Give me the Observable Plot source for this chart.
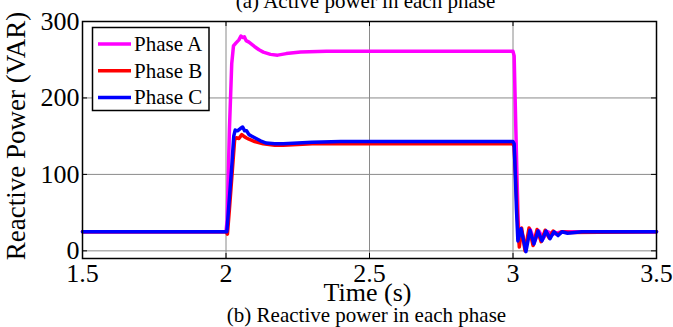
<!DOCTYPE html>
<html>
<head>
<meta charset="utf-8">
<script src="https://cdn.jsdelivr.net/npm/d3@7"></script>
<script src="https://cdn.jsdelivr.net/npm/@observablehq/plot@0.6"></script>
<style>
  html, body { margin: 0; padding: 0; background: white; }
  svg { display: block; }
</style>
</head>
<body>
<div id="chart"></div>
<script>
// ---- data ----
const seriesNames = ["Phase A", "Phase B", "Phase C"];
const seriesColors = ["#ff00ff", "#ff0000", "#0000ff"];

const tA = [1.5, 2.0, 2.004, 2.012, 2.02, 2.026, 2.035, 2.045, 2.052, 2.058, 2.064, 2.07, 2.08, 2.09, 2.1, 2.115, 2.13, 2.155, 2.18, 2.21, 2.26, 2.35, 3.0, 3.004, 3.008, 3.013, 3.018, 3.022, 3.03, 3.045, 3.06, 3.075, 3.09, 3.105, 3.12, 3.14, 3.17, 3.2, 3.5];
const vA = [25, 25, 40, 160, 245, 268, 272, 276, 281, 279, 280, 275, 273, 270, 267, 263, 260, 257, 256, 258, 260, 261, 261, 255, 190, 110, 40, 10, 25, 5, 28, 12, 26, 16, 25, 22, 25, 25, 25];

const tB = [1.5, 2.0, 2.005, 2.012, 2.022, 2.03, 2.036, 2.045, 2.055, 2.062, 2.07, 2.08, 2.1, 2.13, 2.17, 2.2, 2.3, 3.0, 3.004, 3.01, 3.016, 3.022, 3.03, 3.042, 3.056, 3.07, 3.084, 3.098, 3.112, 3.126, 3.14, 3.155, 3.17, 3.2, 3.5];
const vB = [25, 25, 22, 55, 105, 145, 148, 147, 152, 150, 148, 146, 143, 140, 138, 138, 140, 140, 136, 90, 40, 5, 30, 0, 30, 7, 28, 12, 27, 17, 26, 21, 25, 24, 25];

const tC = [1.5, 2.0, 2.003, 2.01, 2.02, 2.027, 2.032, 2.04, 2.05, 2.058, 2.065, 2.072, 2.08, 2.09, 2.1, 2.12, 2.14, 2.17, 2.2, 2.3, 2.4, 3.0, 3.004, 3.008, 3.012, 3.017, 3.028, 3.045, 3.059, 3.073, 3.087, 3.101, 3.115, 3.129, 3.143, 3.157, 3.171, 3.19, 3.24, 3.5];
const vC = [25, 25, 25, 60, 110, 150, 158, 157, 160, 162, 157, 157, 152, 150, 148, 144, 141, 140, 140, 142, 143, 143, 140, 100, 55, 13, 29, -1, 27, 9, 26, 13, 26, 16, 25, 20, 25, 23, 25, 25];

const xTicks = [1.5, 2, 2.5, 3, 3.5];
const xTickLabels = ["1.5", "2", "2.5", "3", "3.5"];
const yTicks = [0, 100, 200, 300];
const yTickLabels = ["0", "100", "200", "300"];
const xGrid = [2, 2.5, 3];
const yGrid = [0, 100, 200];

const titleText = "(a) Active power in each phase";
const xLabel = "Time (s)";
const yLabel = "Reactive Power (VAR)";
const captionText = "(b) Reactive power in each phase";

// ---- build table ----
const toRows = (ts, vs, name) => ts.map((t, i) => ({t, v: vs[i], name}));
const rows = [
  ...toRows(tA, vA, seriesNames[0]),
  ...toRows(tB, vB, seriesNames[1]),
  ...toRows(tC, vC, seriesNames[2])
];

const W = 673, H = 327;
const mL = 82, mR = 17, mT = 21, mB = 69;
const fw = W - mL - mR, fh = H - mT - mB;
const serif = "Liberation Serif, Times New Roman, serif";

const chart = Plot.plot({
  width: W,
  height: H,
  marginLeft: mL,
  marginRight: mR,
  marginTop: mT,
  marginBottom: mB,
  style: {fontFamily: serif, background: "white", color: "black"},
  x: {domain: [1.5, 3.5], axis: null},
  y: {domain: [-10, 300], axis: null},
  color: {domain: seriesNames, range: seriesColors},
  marks: [
    Plot.ruleX(xGrid, {x: d => d, stroke: "#8a8a8a", strokeWidth: 1}),
    Plot.ruleY(yGrid, {y: d => d, stroke: "#8a8a8a", strokeWidth: 1}),
    // inward tick marks
    Plot.tickX(xTicks, {x: d => d, insetTop: fh - 5, stroke: "black"}),
    Plot.tickX(xTicks, {x: d => d, insetBottom: fh - 5, stroke: "black"}),
    Plot.tickY(yTicks, {y: d => d, insetRight: fw - 5, stroke: "black"}),
    Plot.tickY(yTicks, {y: d => d, insetLeft: fw - 5, stroke: "black"}),
    // data lines
    Plot.line(rows, {x: "t", y: "v", z: "name", stroke: "name", strokeWidth: 3.5, strokeLinejoin: "round", strokeLinecap: "round"}),
    Plot.frame({stroke: "black", strokeWidth: 1.5}),
    // tick labels
    Plot.text(xTicks, {x: d => d, text: (d, i) => xTickLabels[i], frameAnchor: "bottom", lineAnchor: "bottom", dy: 23, fontSize: 26, fontFamily: serif, fill: "black"}),
    Plot.text(yTicks, {y: d => d, text: (d, i) => yTickLabels[i], frameAnchor: "left", textAnchor: "end", dx: -3, fontSize: 26, fontFamily: serif, fill: "black"}),
    // axis labels, title, caption
    Plot.text([xLabel], {text: d => d, frameAnchor: "bottom", lineAnchor: "bottom", dy: 42, dx: -2, fontSize: 26, fontFamily: serif, fill: "black"}),
    Plot.text([yLabel], {text: d => d, frameAnchor: "left", textAnchor: "middle", rotate: -90, dx: -66, dy: -4, fontSize: 27, fontFamily: serif, fill: "black"}),
    Plot.text([titleText], {text: d => d, frameAnchor: "top", lineAnchor: "bottom", dy: -13.5, dx: -4, fontSize: 21, fontFamily: serif, fill: "black"}),
    Plot.text([captionText], {text: d => d, frameAnchor: "bottom", lineAnchor: "bottom", dy: 63, dx: -3, fontSize: 21, fontFamily: serif, fill: "black"})
  ]
});

document.getElementById("chart").appendChild(chart);

// ---- legend ----
const svg = d3.select(chart);
const lg = svg.append("g").attr("font-family", serif).attr("font-size", 21).attr("text-anchor", "start");
lg.append("rect")
  .attr("x", 92.5).attr("y", 27.5).attr("width", 116.5).attr("height", 83)
  .attr("fill", "white").attr("stroke", "black").attr("stroke-width", 1.5);
seriesNames.forEach((name, i) => {
  const cy = 44 + i * 26.7;
  lg.append("line").attr("x1", 98).attr("x2", 131).attr("y1", cy).attr("y2", cy)
    .attr("stroke", seriesColors[i]).attr("stroke-width", 3.5);
  lg.append("text").attr("x", 134).attr("y", cy + 7).attr("fill", "black").text(name);
});
</script>
</body>
</html>
